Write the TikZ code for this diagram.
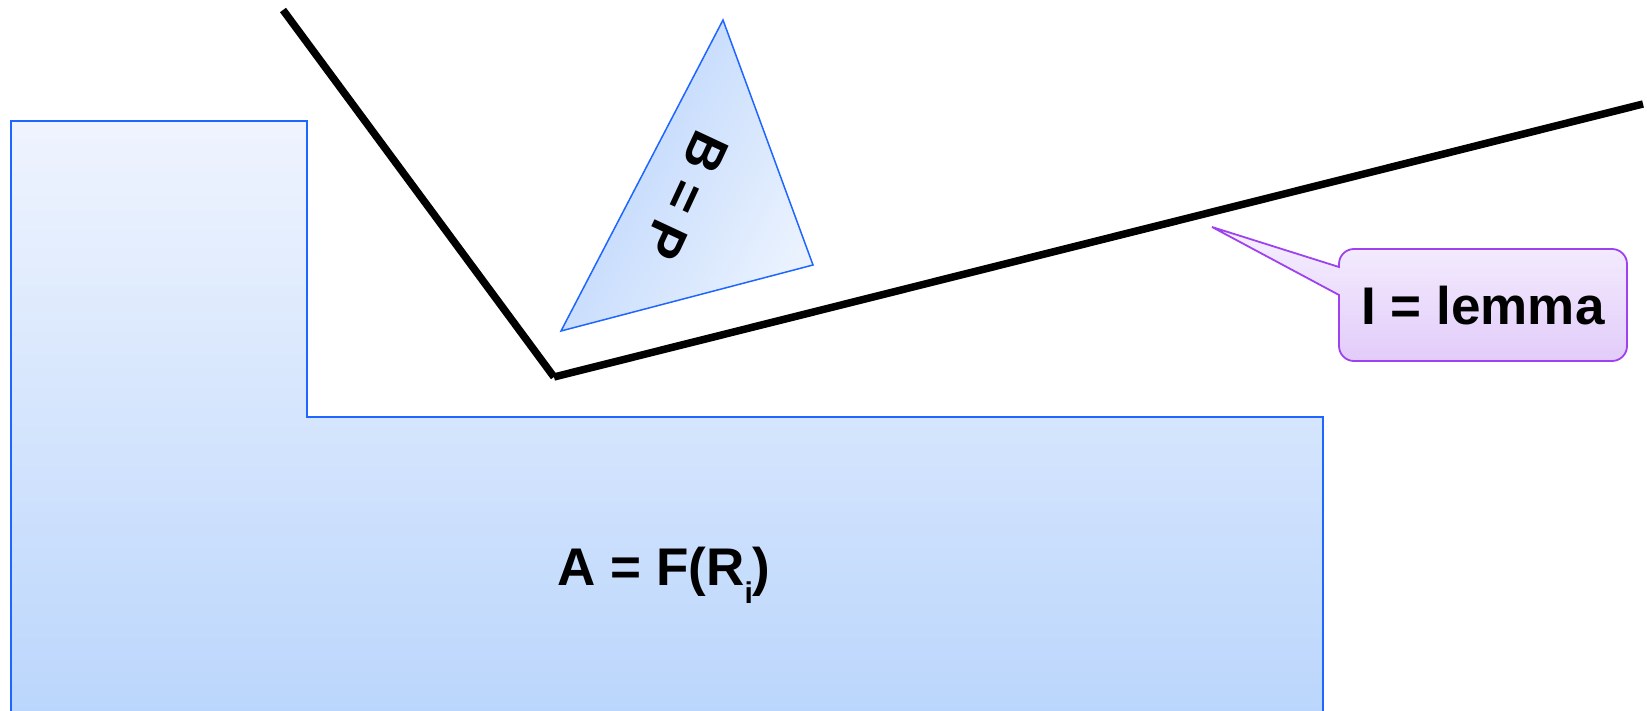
\documentclass[tikz,border=0pt]{standalone}
\usepackage{fontspec}
\setmainfont{Liberation Sans}
\usetikzlibrary{calc}
\definecolor{edgeblue}{RGB}{30,102,255}
\definecolor{atop}{RGB}{239,244,254}
\definecolor{abot}{RGB}{187,214,252}
\definecolor{bdark}{RGB}{184,211,252}
\definecolor{blight}{RGB}{234,242,254}
\definecolor{calledge}{RGB}{158,66,240}
\definecolor{calltop}{RGB}{246,240,254}
\definecolor{callbot}{RGB}{226,204,250}

\begin{document}
\begin{tikzpicture}[x=1pt, y=-1pt, font=\bfseries\fontsize{53}{60}\selectfont,
  part/.style={draw=edgeblue, line width=2pt},
  bar/.style={draw=black, line width=7.5pt},
  label/.style={inner sep=0pt, anchor=base}]
\useasboundingbox (0,0) rectangle (1647,711);
\coordinate (a1) at (11,716);
\coordinate (a2) at (11,121);
\coordinate (a3) at (307,121);
\coordinate (a4) at (307,417);
\coordinate (a5) at (1323,417);
\coordinate (a6) at (1323,716);
\shade[top color=atop, bottom color=abot] (11,711) -- (a2) -- (a3) -- (a4) -- (a5) -- (1323,711) -- cycle;
\draw[part] (a1) -- (a2) -- (a3) -- (a4) -- (a5) -- (a6);
\node[label] (area) at (664,585) {A = F(R\raisebox{-18pt}{\fontsize{30}{30}\selectfont i})};

\coordinate (top) at (283,10);
\coordinate (vee) at (554,377);
\coordinate (far) at (1643,104);
\draw[bar] (top) -- (vee);
\draw[bar] (vee) -- (far);

\coordinate (b1) at (723,20);
\coordinate (b2) at (813,265);
\coordinate (b3) at (561,331);
\shadedraw[draw=edgeblue, line width=1.5pt, left color=bdark, right color=blight, shading angle=62.5] (b1) -- (b2) -- (b3) -- cycle;
\node[rotate=-115, inner sep=0pt] (bp) at (686,196) {B = P};

\coordinate (tip) at (1212,227);
\shadedraw[draw=calledge, line width=1.8pt, top color=calltop, bottom color=callbot]
  (tip) -- (1339,295) [rounded corners=15] -- (1339,361) -- (1627,361) -- (1627,249) -- (1339,249) [sharp corners] -- (1339,267) -- cycle;
\node[label] (lemma) at (1483,325) {I = lemma};
\end{tikzpicture}
\end{document}
